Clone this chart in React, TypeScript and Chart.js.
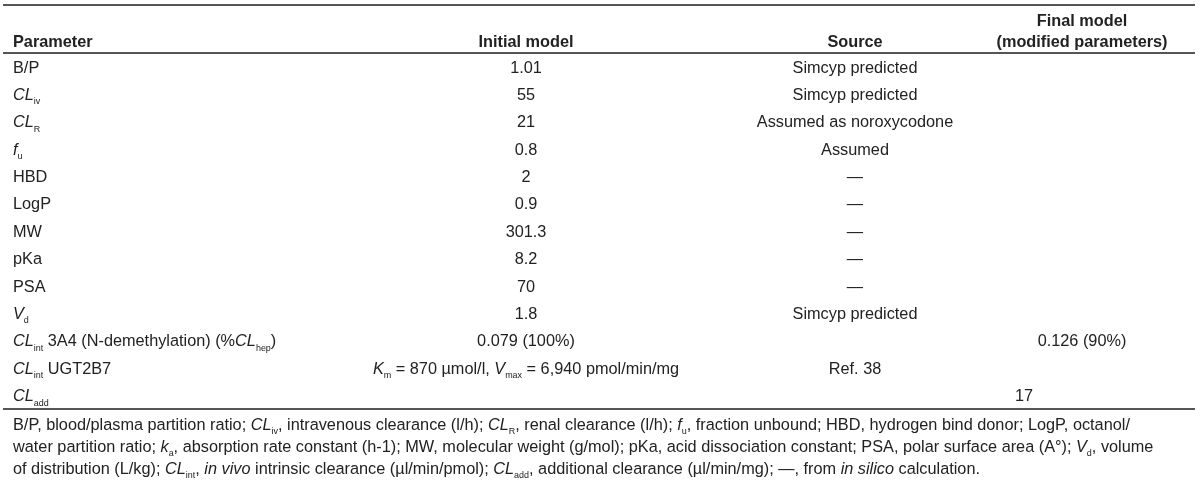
import { useEffect, useRef } from "react";
import { Chart, registerables } from "chart.js";

Chart.register(...registerables);

// ---- Table content (markup: *italic*, _{subscript}) ----
const rowLabels: string[] = [
  "B/P",
  "*CL*_{iv}",
  "*CL*_{R}",
  "*f*_{u}",
  "HBD",
  "LogP",
  "MW",
  "pKa",
  "PSA",
  "*V*_{d}",
  "*CL*_{int} 3A4 (N-demethylation) (%*CL*_{hep})",
  "*CL*_{int} UGT2B7",
  "*CL*_{add}",
];

const initialModel: string[] = [
  "1.01",
  "55",
  "21",
  "0.8",
  "2",
  "0.9",
  "301.3",
  "8.2",
  "70",
  "1.8",
  "0.079 (100%)",
  "*K*_{m} = 870 µmol/l, *V*_{max} = 6,940 pmol/min/mg",
  "",
];

const sources: string[] = [
  "Simcyp predicted",
  "Simcyp predicted",
  "Assumed as noroxycodone",
  "Assumed",
  "—",
  "—",
  "—",
  "—",
  "—",
  "Simcyp predicted",
  "",
  "Ref. 38",
  "",
];

const finalModel: string[] = ["", "", "", "", "", "", "", "", "", "", "0.126 (90%)", "", "17"];

const headerLabels: string[] = ["Parameter", "Initial model", "Source", "Final model\n(modified parameters)"];

const footnoteLines: string[] = [
  "B/P, blood/plasma partition ratio; *CL*_{iv}, intravenous clearance (l/h); *CL*_{R}, renal clearance (l/h); *f*_{u}, fraction unbound; HBD, hydrogen bind donor; LogP, octanol/",
  "water partition ratio; *k*_{a}, absorption rate constant (h-1); MW, molecular weight (g/mol); pKa, acid dissociation constant; PSA, polar surface area (A°); *V*_{d}, volume",
  "of distribution (L/kg); *CL*_{int}, *in vivo* intrinsic clearance (µl/min/pmol); *CL*_{add}, additional clearance (µl/min/mg); —, from *in silico* calculation.",
];

// ---- Layout (not data) ----
const FAMILY = '"Liberation Sans", Arial, Helvetica, sans-serif';
const BODY_SIZE = 16.3;
const HEAD_SIZE = 16.3;
const SUB_RATIO = 0.55;
const TEXT_COLOR = "#222222";
const RULE_COLOR = "#555555";
const colAnchors = [13, 526, 855, 1082];
const colAlign: ("left" | "center")[] = ["left", "center", "center", "center"];
const cellShift: Record<string, number> = { "3-12": -58 };

type Seg = { text: string; italic: boolean; sub: boolean };

function parseRich(s: string): Seg[] {
  const segs: Seg[] = [];
  let italic = false;
  let buf = "";
  let i = 0;
  const flush = () => {
    if (buf) {
      segs.push({ text: buf, italic, sub: false });
      buf = "";
    }
  };
  while (i < s.length) {
    const c = s[i];
    if (c === "*") {
      flush();
      italic = !italic;
      i++;
      continue;
    }
    if (c === "_" && s[i + 1] === "{") {
      flush();
      const end = s.indexOf("}", i);
      segs.push({ text: s.slice(i + 2, end), italic: false, sub: true });
      i = end + 1;
      continue;
    }
    buf += c;
    i++;
  }
  flush();
  return segs;
}

function drawRich(
  ctx: CanvasRenderingContext2D,
  str: string,
  x: number,
  y: number,
  align: "left" | "center",
  size: number,
  bold: boolean
) {
  const segs = parseRich(str);
  const fontFor = (seg: Seg) =>
    `${seg.italic ? "italic " : ""}${bold ? "bold " : ""}${seg.sub ? size * SUB_RATIO : size}px ${FAMILY}`;
  const widths = segs.map((seg) => {
    ctx.font = fontFor(seg);
    return ctx.measureText(seg.text).width;
  });
  const total = widths.reduce((a, b) => a + b, 0);
  let cx = align === "center" ? x - total / 2 : x;
  const base = y + size * 0.36;
  segs.forEach((seg, k) => {
    ctx.font = fontFor(seg);
    ctx.fillText(seg.text, cx, seg.sub ? base + size * 0.27 : base);
    cx += widths[k];
  });
}

const columns = [rowLabels, initialModel, sources, finalModel];

const tablePlugin = {
  id: "tableText",
  afterDatasetsDraw(chart: any) {
    const ctx: CanvasRenderingContext2D = chart.ctx;
    const area = chart.chartArea;
    ctx.save();
    ctx.textAlign = "left";
    ctx.textBaseline = "alphabetic";
    ctx.fillStyle = TEXT_COLOR;

    // rules
    ctx.strokeStyle = RULE_COLOR;
    ctx.lineWidth = 2;
    const left = 3;
    const right = 1195;
    [5, area.top, area.bottom].forEach((yy: number) => {
      ctx.beginPath();
      ctx.moveTo(left, yy);
      ctx.lineTo(right, yy);
      ctx.stroke();
    });

    // cells
    chart.data.datasets.forEach((_ds: any, di: number) => {
      const meta = chart.getDatasetMeta(di);
      meta.data.forEach((el: any, i: number) => {
        const txt = columns[di][i];
        if (!txt) return;
        drawRich(ctx, txt, el.x, el.y, colAlign[di], BODY_SIZE, false);
      });
    });

    // headers
    const xScale = chart.scales.x;
    headerLabels.forEach((h, di) => {
      const lines = h.split("\n");
      const x = xScale.getPixelForValue(colAnchors[di]);
      lines.forEach((ln, li) => {
        const y = area.top - 12 - (lines.length - 1 - li) * 21;
        drawRich(ctx, ln, x, y, colAlign[di], HEAD_SIZE, true);
      });
    });

    // footnote
    footnoteLines.forEach((ln, li) => {
      drawRich(ctx, ln, 13, area.bottom + 15 + li * 22, "left", BODY_SIZE, false);
    });
    ctx.restore();
  },
};

export default function App() {
  const ref = useRef<HTMLCanvasElement | null>(null);
  useEffect(() => {
    if (!ref.current) return;
    const datasets = columns.map((col, di) => ({
      label: headerLabels[di],
      data: col.map((_, i) => ({
        x: colAnchors[di] + (cellShift[`${di}-${i}`] || 0),
        y: rowLabels[i],
      })),
      pointRadius: 0,
      pointHoverRadius: 0,
      showLine: false,
    }));
    const chart = new Chart(ref.current, {
      type: "scatter",
      data: { datasets } as any,
      options: {
        animation: false,
        responsive: true,
        maintainAspectRatio: false,
        events: [],
        layout: { padding: { top: 53, bottom: 76, left: 0, right: 0 } },
        plugins: { legend: { display: false }, tooltip: { enabled: false } },
        scales: {
          x: { type: "linear", min: 0, max: 1200, display: false },
          y: { type: "category", labels: rowLabels, offset: true, display: false },
        },
      } as any,
      plugins: [tablePlugin],
    });
    return () => chart.destroy();
  }, []);
  return (
    <div style={{ position: "absolute", left: 0, top: 0, width: 1200, height: 485, background: "#fff" }}>
      <canvas ref={ref} />
    </div>
  );
}
